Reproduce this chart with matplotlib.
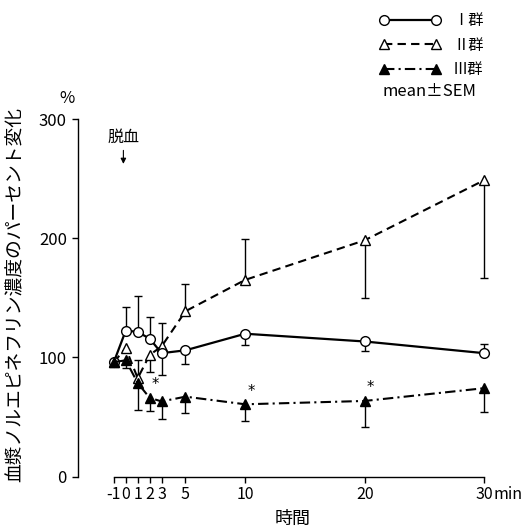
import numpy as np
import matplotlib
matplotlib.use("Agg")
import matplotlib.pyplot as plt

plt.rcParams['font.family'] = ['Noto Sans CJK JP', 'DejaVu Sans']

# ---- data ----
times = [-1, 0, 1, 2, 3, 5, 10, 20, 30]
xtick_labels = ["-1", "0", "1", "2", "3", "5", "10", "20", "30"]
yticks = [0, 100, 200, 300]

g1 = [96, 122.5, 121.3, 115.7, 103.5, 105.9, 119.8, 113.3, 103.5]
g1_up = [0, 19.8, 30.0, 18.0, 0, 0, 0, 0, 7.6]
g1_dn = [0, 0, 0, 0, 18.5, 11.5, 9.3, 8.4, 0]

g2 = [96, 107.7, 82.5, 102.0, 109.2, 138.7, 165.0, 198.2, 248.6]
g2_up = [0, 0, 15.0, 0, 20.0, 23.2, 34.6, 0, 0]
g2_dn = [0, 0, 0, 14.0, 0, 0, 0, 48.5, 82.0]

g3 = [96, 97.5, 78.4, 66.0, 63.0, 67.0, 60.6, 63.4, 74.1]
g3_up = [0, 0, 0, 0, 0, 0, 0, 0, 0]
g3_dn = [0, 6.5, 22.8, 11.0, 14.5, 13.8, 14.0, 21.5, 20.0]

signif_times = [2, 10, 20]   # * marks for group III

labels = ["Ⅰ群", "Ⅱ群", "Ⅲ群"]
ylabel = "血漿ノルエピネフリン濃度のパーセント変化"
xlabel = "時間"
event_label = "脱血"
event_time = -0.2

# ---- figure ----
fig = plt.figure(figsize=(5.25, 5.31), dpi=100)
ax = fig.add_axes([78/525, 1-476.5/531, (496-78)/525, (476.5-119)/531])
ax.set_xlim(-4, 31)
ax.set_ylim(0, 300)

x = np.array(times, dtype=float)

def draw_err(y, up, dn):
    y = np.array(y); up = np.array(up); dn = np.array(dn)
    m = up > 0
    ax.vlines(x[m], y[m], y[m] + up[m], color='black', lw=1.0, zorder=2)
    ax.plot(x[m], y[m] + up[m], ls='none', marker='_', ms=6, mew=1.0, color='black', zorder=2)
    m = dn > 0
    ax.vlines(x[m], y[m] - dn[m], y[m], color='black', lw=1.0, zorder=2)
    ax.plot(x[m], y[m] - dn[m], ls='none', marker='_', ms=6, mew=1.0, color='black', zorder=2)

draw_err(g1, g1_up, g1_dn)
draw_err(g2, g2_up, g2_dn)
draw_err(g3, g3_up, g3_dn)

l1, = ax.plot(x, g1, color='black', lw=1.6, ls='-', marker='o', ms=7,
              mfc='white', mec='black', mew=1.0, zorder=4, label=labels[0])
l2, = ax.plot(x, g2, color='black', lw=1.5, ls=(0, (4, 2.5)), marker='^', ms=7,
              mfc='white', mec='black', mew=1.0, zorder=3, label=labels[1])
l3, = ax.plot(x, g3, color='black', lw=1.5, ls=(0, (5, 2, 1, 2)), marker='^', ms=6.5,
              mfc='black', mec='black', mew=1.0, zorder=5, label=labels[2])

# significance marks
for t in signif_times:
    i = times.index(t)
    ax.annotate('*', xy=(t, g3[i]), xytext=(4, 4), textcoords='offset points',
                ha='center', va='bottom', fontsize=10.5, family='DejaVu Sans')

# spines and ticks
for s in ['top', 'right']:
    ax.spines[s].set_visible(False)
ax.spines['bottom'].set_bounds(-1, 30)
ax.spines['left'].set_bounds(0, 300)
ax.spines['bottom'].set_linewidth(1.0)
ax.spines['left'].set_linewidth(1.0)
ax.set_xticks(times)
ax.set_xticklabels(xtick_labels)
ax.set_yticks(yticks)
ax.tick_params(axis='both', direction='out', length=4, width=1.0, labelsize=12, pad=4)
ax.tick_params(axis='x', pad=3, labelsize=11.5)

ax.annotate('min', xy=(30, 0), xycoords='data', xytext=(7, -7), textcoords='offset points',
            ha='left', va='top', fontsize=11.5)
ax.annotate('%', xy=(0, 1), xycoords='axes fraction', xytext=(-8, 15), textcoords='offset points',
            ha='center', va='center', fontsize=12)

fig.text(15/525, 1-295/531, ylabel, rotation=90, ha='center', va='center', fontsize=13.5)
fig.text(293/525, 1-519/531, xlabel, ha='center', va='center', fontsize=13)

# event arrow
ax.text(event_time, 285, event_label, ha='center', va='center', fontsize=11.5)
ax.annotate('', xy=(event_time, 260), xytext=(event_time, 276),
            arrowprops=dict(arrowstyle='-|>', color='black', lw=0.8, mutation_scale=8))

leg = ax.legend(handles=[l1, l2, l3], numpoints=2, frameon=False, loc='upper left',
                bbox_to_anchor=(379/525, 1-12/531), bbox_transform=fig.transFigure,
                fontsize=11, handlelength=4.05, handletextpad=0.8, labelspacing=0.5,
                borderpad=0, borderaxespad=0)
fig.text(383/525, 1-91/531, "mean±SEM", ha='left', va='center', fontsize=12)

fig.savefig('out.png', dpi=100)
